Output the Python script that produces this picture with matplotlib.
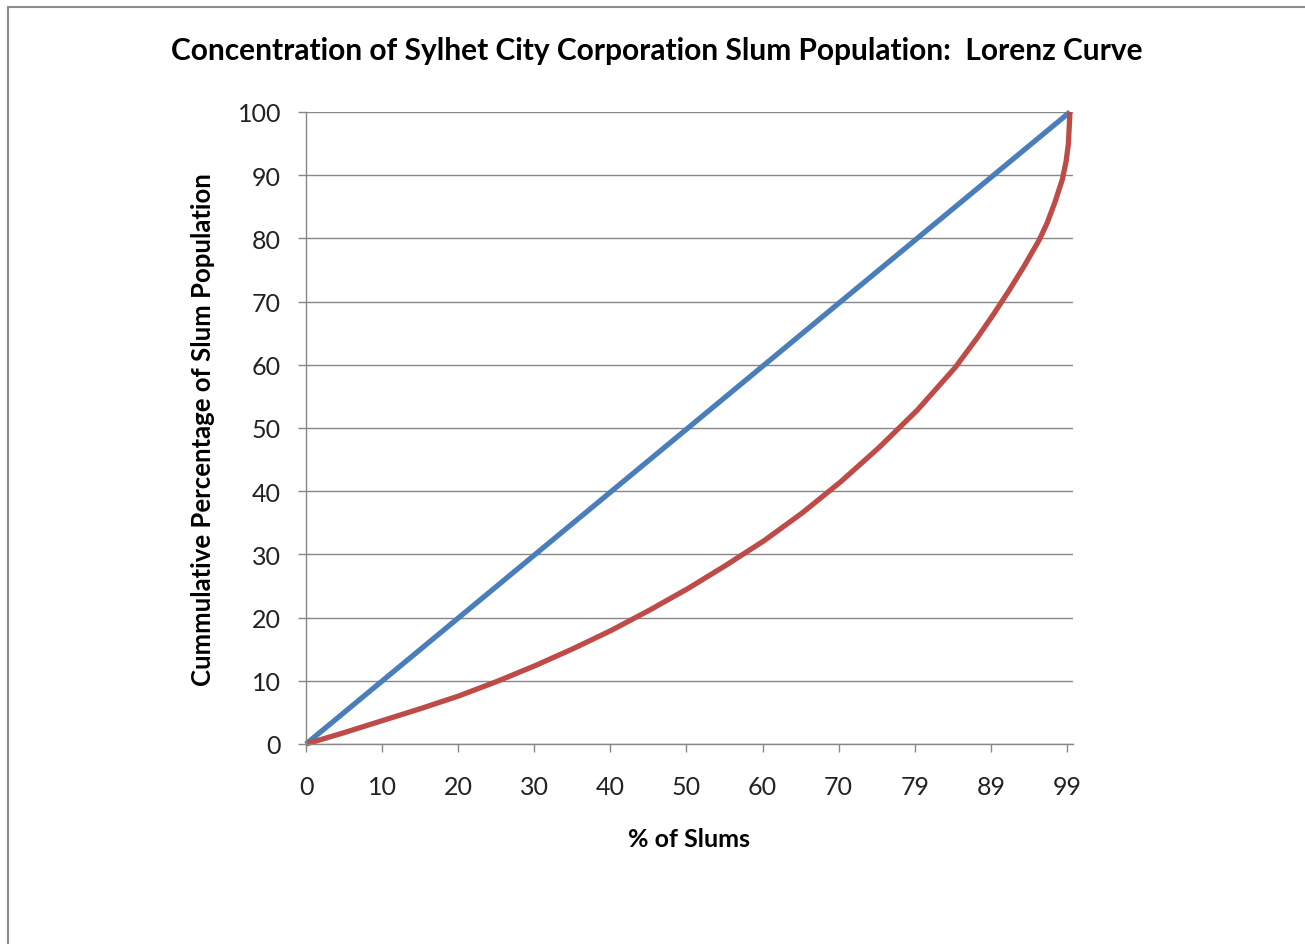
import matplotlib
matplotlib.use("Agg")
import matplotlib.pyplot as plt
from matplotlib.patches import Rectangle

# ---- data ----
equality_x = [0, 100]
equality_y = [0, 100]

lorenz_x = [0, 5, 10, 15, 20, 25, 30, 35, 40, 45, 50, 55, 60, 65, 70, 75, 80, 85,
            88, 90, 92, 94, 96, 97, 98, 99, 99.5, 99.8, 100]
lorenz_y = [0, 1.8, 3.7, 5.6, 7.6, 9.9, 12.4, 15.1, 18.0, 21.2, 24.6, 28.3, 32.2,
            36.6, 41.5, 46.9, 52.8, 59.6, 64.5, 68.0, 71.7, 75.6, 79.8, 82.4, 85.6,
            89.3, 92.2, 95.0, 100]

xtick_pos = [0, 9.96, 19.92, 29.88, 39.84, 49.8, 59.76, 69.72, 79.69, 89.65, 99.61]
xtick_labels = ["0", "10", "20", "30", "40", "50", "60", "70", "79", "89", "99"]
ytick_vals = [0, 10, 20, 30, 40, 50, 60, 70, 80, 90, 100]

title = "Concentration of Sylhet City Corporation Slum Population:  Lorenz Curve"
xlabel = "% of Slums"
ylabel = "Cummulative Percentage of Slum Population"

plt.rcParams['font.family'] = ['Lato', 'DejaVu Sans']

W, H = 1305, 945
fig = plt.figure(figsize=(W / 100, H / 100), dpi=100)
fig.patch.set_facecolor("white")

# outer frame (top and left visible)
fig.add_artist(Rectangle((8 / W, -0.1), 1.2, 1 - 8 / H + 0.1, transform=fig.transFigure,
                         fill=False, edgecolor="#8c8c8c", linewidth=1.5))

left, right, top, bottom = 306, 1073, 113, 745
ax = fig.add_axes([left / W, 1 - bottom / H, (right - left) / W, (bottom - top) / H])

grid_c = "#878787"
ax.set_xlim(0, 100.4)
ax.set_ylim(0, 100)
ax.set_yticks(ytick_vals)
ax.set_yticklabels([str(v) for v in ytick_vals])
ax.set_xticks(xtick_pos)
ax.set_xticklabels(xtick_labels)
ax.yaxis.grid(True, color=grid_c, linewidth=1.0)
ax.set_axisbelow(True)
for s in ["top", "right"]:
    ax.spines[s].set_visible(False)
for s in ["left", "bottom"]:
    ax.spines[s].set_color(grid_c)
    ax.spines[s].set_linewidth(1.0)
ax.tick_params(axis="both", color=grid_c, length=6, width=1.0, labelsize=18,
               labelcolor="#222222")
ax.tick_params(axis="y", pad=12)
ax.tick_params(axis="x", pad=16)

ax.plot(equality_x, equality_y, color="#4a7ebb", linewidth=3.8, solid_capstyle="butt",
        clip_on=False)
ax.plot(lorenz_x, lorenz_y, color="#be4b48", linewidth=3.8, solid_capstyle="butt",
        solid_joinstyle="round", clip_on=False)

fig.text(657 / W, 1 - 51 / H, title, ha="center", va="center", fontsize=21.5,
         fontweight="bold", color="black")
fig.text(689 / W, 1 - 840 / H, xlabel, ha="center", va="center", fontsize=18,
         fontweight="bold", color="black")
fig.text(203 / W, 1 - 430 / H, ylabel, ha="center", va="center", fontsize=18.5,
         fontweight="bold", rotation=90, color="black")

fig.savefig("out.png", dpi=100, facecolor="white")
